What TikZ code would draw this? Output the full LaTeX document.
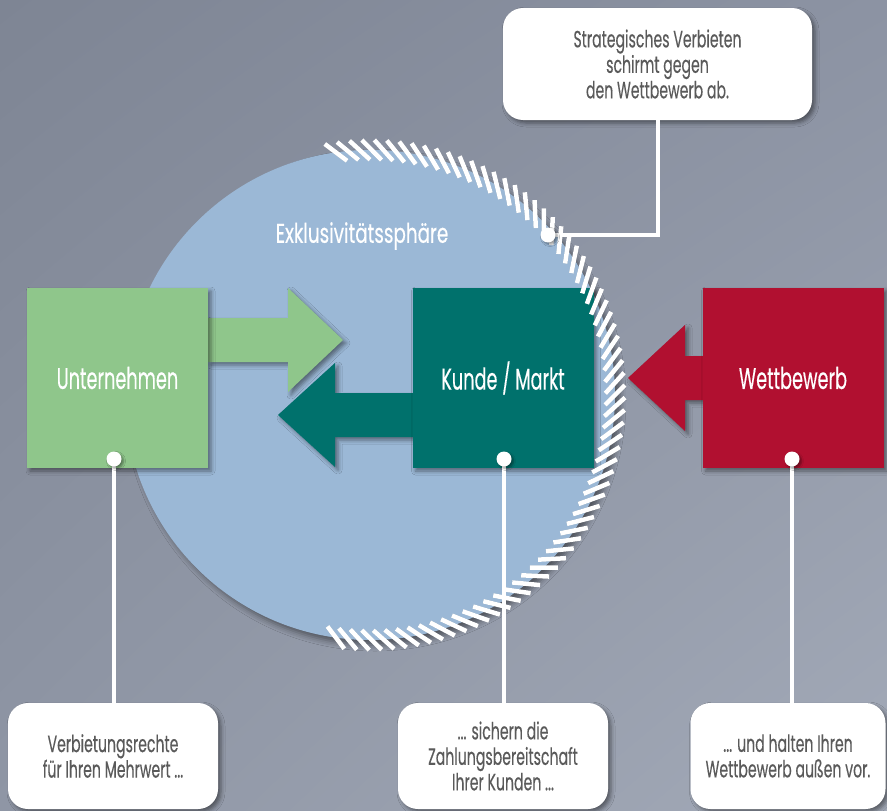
\documentclass[tikz,border=0pt]{standalone}
\usepackage{fontspec}
\newfontfamily\futlabel[FakeStretch=0.59, FakeBold=0.3]{Poppins}
\newfontfamily\futsphere[FakeStretch=0.68, FakeBold=0.25]{Poppins}
\newfontfamily\futnote[FakeStretch=0.60, FakeBold=0.25]{Poppins}
\usetikzlibrary{shadows.blur,shadings}

\definecolor{bgTL}{HTML}{7E8594}
\definecolor{bgTR}{HTML}{8C93A3}
\definecolor{bgBL}{HTML}{8F96A5}
\definecolor{bgBR}{HTML}{A3AAB8}
\definecolor{sphere}{HTML}{9BB8D6}
\definecolor{firmgreen}{HTML}{8FC68B}
\definecolor{marketteal}{HTML}{00716C}
\definecolor{rivalred}{HTML}{B11030}
\definecolor{notegray}{HTML}{5A5A5A}

\tikzset{
  soft/.style={blur shadow={shadow xshift=3pt, shadow yshift=-3pt, shadow blur radius=4pt, shadow opacity=45}},
  party/.style={minimum width=181pt, minimum height=180pt, inner sep=0pt, text=white,
                font=\futlabel\fontsize{30}{32}\selectfont, soft},
  blockarrow/.style={soft},
  tick/.style={white, line width=4.5pt},
  wire/.style={white, line width=4pt},
  dot/.style={circle, fill=white, minimum size=15pt, inner sep=0pt,
              blur shadow={shadow xshift=2pt, shadow yshift=-2pt, shadow blur radius=2pt, shadow opacity=40}},
  note/.style={fill=white, rounded corners=20pt, inner sep=0pt, align=center, text=notegray,
               font=\futnote\fontsize{23.5}{25.5}\selectfont, soft},
}

\begin{document}
\begin{tikzpicture}[x=1pt, y=-1pt]
  % backdrop
  \shade[upper left=bgTL, upper right=bgTR, lower left=bgBL, lower right=bgBR]
    (0,0) rectangle (887,811);
  \useasboundingbox (0,0) rectangle (887,811);

  % sphere of exclusivity
  \coordinate (C) at (370,395);
  \fill[sphere, blur shadow={shadow xshift=5pt, shadow yshift=-5pt, shadow blur radius=6pt, shadow opacity=45}]
    (C) circle[radius=245];
  \node[text=white, font=\futsphere\fontsize{27}{30}\selectfont] (sph) at (362,236) {Exklusivitätssphäre};

  % block arrows
  \fill[firmgreen, blockarrow] (208,318) -- (288,318) -- (288,288) -- (343,340)
    -- (288,392) -- (288,362) -- (208,362) -- cycle;
  \fill[marketteal, blockarrow] (413,393) -- (335,393) -- (335,363) -- (278,415)
    -- (335,467) -- (335,437) -- (413,437) -- cycle;
  \fill[rivalred, blockarrow] (703,356) -- (685,356) -- (685,325) -- (628,378)
    -- (685,431) -- (685,400) -- (703,400) -- cycle;

  % the three parties
  \node[party, fill=firmgreen] (firm) at (117.5,378) {Unternehmen};
  \node[party, fill=marketteal] (market) at (503,378) {Kunde / Markt};
  \node[party, fill=rivalred] (rival) at (793,378) {Wettbewerb};

  % hatched shield along the right rim
  \foreach \t in {98,95.2,...,-100}{
    \draw[black, opacity=0.18, line width=4.5pt, xshift=2pt, yshift=-2pt]
      (C) ++({-\t}:245) ++({-\t-45}:14) -- ++({-\t-45}:-28);
    \draw[tick] (C) ++({-\t}:245) ++({-\t-45}:14) -- ++({-\t-45}:-28);
  }

  % callouts
  \node[note, minimum width=309pt, minimum height=112pt] (ntop) at (657.5,64)
    {Strategisches Verbieten\\schirmt gegen\\den Wettbewerb ab.};
  \node[note, minimum width=210pt, minimum height=106pt] (nfirm) at (113,756)
    {Verbietungsrechte\\für Ihren Mehrwert ...};
  \node[note, minimum width=210pt, minimum height=106pt] (nmarket) at (503,756)
    {... sichern die\\Zahlungsbereitschaft\\Ihrer Kunden ...};
  \node[note, minimum width=195pt, minimum height=106pt] (nrival) at (788,756)
    {... und halten Ihren\\Wettbewerb außen vor.};

  % anchor dots
  \coordinate (pshield) at (548,235);
  \coordinate (pfirm) at (114,459);
  \coordinate (pmarket) at (504,459);
  \coordinate (prival) at (792,459);

  % connectors
  \draw[wire] (ntop.south) |- (pshield);
  \draw[wire] (pfirm) -- (pfirm |- nfirm.north);
  \draw[wire] (pmarket) -- (pmarket |- nmarket.north);
  \draw[wire] (prival) -- (prival |- nrival.north);

  \node[dot] (dshield) at (pshield) {};
  \node[dot] (dfirm) at (pfirm) {};
  \node[dot] (dmarket) at (pmarket) {};
  \node[dot] (drival) at (prival) {};
\end{tikzpicture}
\end{document}
